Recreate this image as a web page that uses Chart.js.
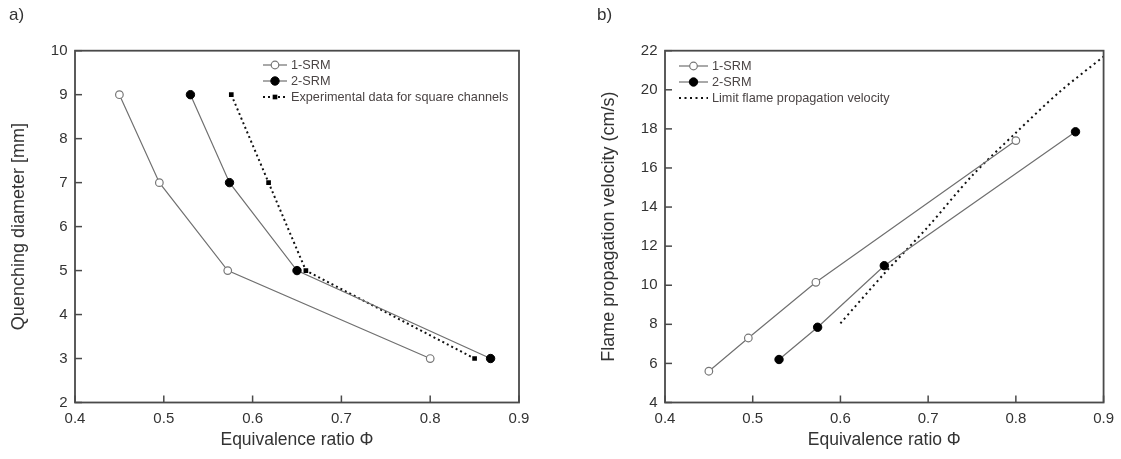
<!DOCTYPE html>
<html><head><meta charset="utf-8">
<script src="https://cdn.jsdelivr.net/npm/chart.js@4.4.1/dist/chart.umd.min.js"></script>
<style>
html,body{margin:0;padding:0;background:#fff;}
#wrap{position:relative;width:1121px;height:459px;overflow:hidden;background:#fff;}
.panel{position:absolute;top:0;height:459px;}
#pa{left:0;width:560px;} #pb{left:560px;width:561px;}
.lab{position:absolute;top:5px;font:17px 'Liberation Sans',Arial,sans-serif;color:#333;}
</style></head><body>
<div id="wrap">
<div class="panel" id="pa"><canvas id="ca" width="560" height="459"></canvas></div>
<div class="panel" id="pb"><canvas id="cb" width="561" height="459"></canvas></div>
<div class="lab" style="left:9px">a)</div>
<div class="lab" style="left:597px">b)</div>
</div>
<script>
// ---- data ----
const xTicks = [0.4, 0.5, 0.6, 0.7, 0.8, 0.9];
const yTicksA = [2, 3, 4, 5, 6, 7, 8, 9, 10];
const yTicksB = [4, 6, 8, 10, 12, 14, 16, 18, 20, 22];
const phi1 = [0.45, 0.495, 0.572, 0.8];
const phi2 = [0.53, 0.574, 0.65, 0.868];
const phiExp = [0.576, 0.618, 0.66, 0.85];
const dq1 = [9, 7, 5, 3];
const dq2 = [9, 7, 5, 3];
const dqExp = [9, 7, 5, 3];
const v1 = [5.6, 7.3, 10.15, 17.4];
const v2 = [6.2, 7.85, 11.0, 17.85];
const phiLim = [0.6, 0.65, 0.7, 0.75, 0.8, 0.85, 0.9];
const vLim = [8.05, 10.6, 13.0, 15.6, 17.8, 19.9, 21.7];

const FONT = "'Liberation Sans', Arial, sans-serif";
const pts = (xs, ys) => xs.map((x, i) => ({x: x, y: ys[i]}));

const frameTicks = {
  id: 'frameTicks',
  afterDatasetsDraw(chart) {
    const {ctx, chartArea: a, scales} = chart;
    ctx.save();
    ctx.strokeStyle = '#4a4a4a';
    ctx.lineWidth = 1.5;
    const tl = 7;
    scales.x.ticks.forEach(t => {
      const px = scales.x.getPixelForValue(t.value);
      ctx.beginPath(); ctx.moveTo(px, a.bottom); ctx.lineTo(px, a.bottom - tl); ctx.stroke();
    });
    scales.y.ticks.forEach(t => {
      const py = scales.y.getPixelForValue(t.value);
      ctx.beginPath(); ctx.moveTo(a.left, py); ctx.lineTo(a.left + tl, py); ctx.stroke();
    });
    ctx.lineWidth = 1.8;
    ctx.strokeRect(a.left, a.top, a.right - a.left, a.bottom - a.top);
    ctx.restore();
  }
};

const boxLegend = {
  id: 'boxLegend',
  afterDraw(chart, args, o) {
    const ctx = chart.ctx;
    ctx.save();
    ctx.font = '12.7px ' + FONT;
    ctx.textBaseline = 'middle';
    chart.data.datasets.forEach((ds, i) => {
      const y = o.y + i * o.dy;
      const x0 = o.x, x1 = o.x + o.len;
      ctx.strokeStyle = ds.borderColor;
      ctx.lineWidth = ds.borderWidth;
      ctx.setLineDash(ds.borderDash || []);
      ctx.beginPath(); ctx.moveTo(x0, y); ctx.lineTo(x1, y); ctx.stroke();
      ctx.setLineDash([]);
      const mx = (x0 + x1) / 2;
      if (ds.pointRadius > 0) {
        ctx.fillStyle = ds.pointBackgroundColor;
        ctx.strokeStyle = ds.pointBorderColor;
        ctx.lineWidth = ds.pointBorderWidth || 1;
        const r = ds.pointRadius;
        if (ds.pointStyle === 'rect') {
          const h = r * Math.SQRT1_2;
          ctx.fillRect(mx - h, y - h, 2 * h, 2 * h);
        } else {
          ctx.beginPath(); ctx.arc(mx, y, r, 0, Math.PI * 2); ctx.fill(); ctx.stroke();
        }
      }
      ctx.fillStyle = '#4a4444';
      ctx.fillText(ds.label, x1 + 4, y);
    });
    ctx.restore();
  }
};

function scales(yTicks, yMin, yMax, yTitle, yWidth, yTitlePad) {
  return {
    x: {
      type: 'linear', min: 0.4, max: 0.9,
      afterBuildTicks: s => { s.ticks = xTicks.map(v => ({value: v})); },
      afterFit: s => { s.height = 56.5; },
      grid: {display: false, drawTicks: false},
      border: {display: false},
      ticks: {autoSkip: false, maxRotation: 0, padding: 7, color: '#333',
        font: {size: 15, family: FONT}, callback: v => Number(v).toFixed(1)},
      title: {display: true, text: 'Equivalence ratio \u03A6', color: '#333',
        font: {size: 17.5, family: FONT}, padding: {top: 0, bottom: 8.5}}
    },
    y: {
      type: 'linear', min: yMin, max: yMax,
      afterBuildTicks: s => { s.ticks = yTicks.map(v => ({value: v})); },
      afterFit: s => { s.width = yWidth; },
      grid: {display: false, drawTicks: false},
      border: {display: false},
      ticks: {autoSkip: false, padding: 7.5, color: '#333',
        font: {size: 15, family: FONT}, callback: v => String(v)},
      title: {display: true, text: yTitle, color: '#333',
        font: {size: 18, family: FONT}, padding: {top: yTitlePad, bottom: 0}}
    }
  };
}

const open = {borderColor: '#707070', borderWidth: 1.2, pointStyle: 'circle', pointRadius: 3.8,
  pointBackgroundColor: '#fff', pointBorderColor: '#777', pointBorderWidth: 1.2, showLine: true, tension: 0};
const filled = {borderColor: '#707070', borderWidth: 1.2, pointStyle: 'circle', pointRadius: 4.2,
  pointBackgroundColor: '#000', pointBorderColor: '#000', pointBorderWidth: 1, showLine: true, tension: 0};

new Chart(document.getElementById('ca'), {
  type: 'scatter',
  data: {datasets: [
    Object.assign({label: '1-SRM', data: pts(phi1, dq1)}, open),
    Object.assign({label: '2-SRM', data: pts(phi2, dq2)}, filled),
    {label: 'Experimental data for square channels', data: pts(phiExp, dqExp), showLine: true,
     borderColor: '#111', borderWidth: 2, borderDash: [2, 3], pointStyle: 'rect', pointRadius: 3.3,
     pointBackgroundColor: '#000', pointBorderColor: '#000', pointBorderWidth: 0}
  ]},
  options: {
    responsive: false, animation: false, devicePixelRatio: 1,
    layout: {padding: {left: 0, right: 41, top: 50.7, bottom: 0}},
    plugins: {legend: {display: false}, tooltip: {enabled: false},
      boxLegend: {x: 263, y: 65, dy: 16, len: 24}},
    scales: scales(yTicksA, 2, 10, 'Quenching diameter [mm]', 75, 8.5)
  },
  plugins: [frameTicks, boxLegend]
});

new Chart(document.getElementById('cb'), {
  type: 'scatter',
  data: {datasets: [
    Object.assign({label: '1-SRM', data: pts(phi1, v1)}, open),
    Object.assign({label: '2-SRM', data: pts(phi2, v2)}, filled),
    {label: 'Limit flame propagation velocity', data: pts(phiLim, vLim), showLine: true,
     borderColor: '#111', borderWidth: 2, borderDash: [2, 3.5], pointRadius: 0,
     pointBackgroundColor: '#000', pointBorderColor: '#000', tension: 0.3}
  ]},
  options: {
    responsive: false, animation: false, devicePixelRatio: 1,
    layout: {padding: {left: 0, right: 13, top: 50.7, bottom: 0}},
    plugins: {legend: {display: false}, tooltip: {enabled: false},
      boxLegend: {x: 119, y: 66, dy: 16, len: 29}},
    scales: scales(yTicksB, 4, 22, 'Flame propagation velocity (cm/s)', 105, 38)
  },
  plugins: [frameTicks, boxLegend]
});
</script>
</body></html>
